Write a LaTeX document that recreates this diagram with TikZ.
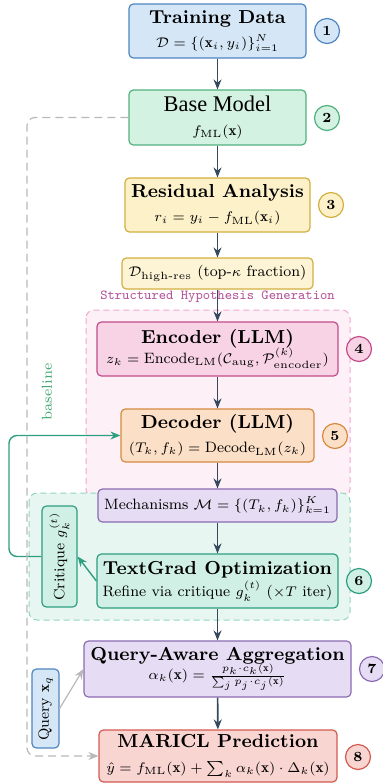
\documentclass[tikz,border=0pt]{standalone}
\usepackage{amsmath}
\usepackage{fontspec}
\newfontfamily\timesfont{Liberation Serif}
\usetikzlibrary{arrows.meta}

% palette
\definecolor{blueF}{HTML}{D5E7F6}\definecolor{blueD}{HTML}{4F86BF}
\definecolor{greenF}{HTML}{D4F2E2}\definecolor{greenD}{HTML}{52B07E}
\definecolor{yelF}{HTML}{FCF1C9}\definecolor{yelD}{HTML}{D2B040}
\definecolor{yelF2}{HTML}{FDF4D6}
\definecolor{pinkF}{HTML}{F8D3E6}\definecolor{pinkD}{HTML}{C24D8A}
\definecolor{orF}{HTML}{FBDFC6}\definecolor{orD}{HTML}{D58A3F}
\definecolor{purF}{HTML}{E6DCF3}\definecolor{purD}{HTML}{8B6BB3}
\definecolor{tealF}{HTML}{D0F0E6}\definecolor{tealD}{HTML}{2E9E80}
\definecolor{redF}{HTML}{F9D5D1}\definecolor{redD}{HTML}{D25A50}
\definecolor{arrowC}{HTML}{34495E}
\definecolor{regPinkF}{HTML}{FDF0F7}\definecolor{regPinkD}{HTML}{F1A9CA}
\definecolor{regGreenF}{HTML}{E7F6F1}\definecolor{regGreenD}{HTML}{92D4C1}
\definecolor{greyC}{HTML}{B8B8B8}
\definecolor{labMag}{HTML}{B5569B}
\definecolor{labGreen}{HTML}{3DA86C}

\newcommand\boxtitle{\fontsize{9.4}{11}\selectfont\bfseries}
\newcommand\boxsub{\fontsize{7.5}{9}\selectfont}

\begin{document}
\begin{tikzpicture}[x=0.5pt,y=-0.5pt,
  stage/.style={draw, rounded corners=2.2pt, line width=0.6pt, align=center, inner sep=0pt},
  numdot/.style={circle, draw, line width=0.6pt, minimum size=12.5pt, inner sep=0pt, font=\fontsize{7}{8}\selectfont\bfseries},
  flow/.style={draw=arrowC, line width=0.8pt, -{Stealth[length=5pt,width=4pt]}},
  region/.style={dashed, dash pattern=on 3pt off 2pt, line width=0.5pt, rounded corners=4pt}]
\useasboundingbox (0,0) rectangle (383,783);

% grouping regions
\draw[region, fill=regPinkF, draw=regPinkD] (86,310) rectangle (350,497);
\draw[region, fill=regGreenF, draw=regGreenD] (29,493) rectangle (350,620);

\node[text=labMag, font=\ttfamily\fontsize{6.9}{8}\selectfont] (shg) at (217.5,297) {Structured Hypothesis Generation};
\node[text=labGreen, rotate=90, font=\fontsize{7.2}{8}\selectfont] (bl) at (47,392) {baseline};

% stages
\node[stage, fill=blueF, draw=blueD, minimum width=88.5pt, minimum height=27pt] (train) at (217.5,31)
  {{\boxtitle Training Data}\\[0pt]{\boxsub $\mathcal{D}=\{(\mathbf{x}_i,y_i)\}_{i=1}^{N}$}};
\node[stage, fill=greenF, draw=greenD, minimum width=88.5pt, minimum height=27.5pt] (base) at (217.5,117.5)
  {{\timesfont\fontsize{11.2}{12}\selectfont Base Model}\\[0pt]{\boxsub $f_{\mathrm{ML}}(\mathbf{x})$}};
\node[stage, fill=yelF, draw=yelD, minimum width=92.5pt, minimum height=27pt] (resid) at (217.5,205)
  {{\boxtitle Residual Analysis}\\[0pt]{\boxsub $r_i=y_i-f_{\mathrm{ML}}(\mathbf{x}_i)$}};
\node[stage, fill=yelF2, draw=yelD, minimum width=95.5pt, minimum height=15.5pt] (dhigh) at (217.5,273.5)
  {\boxsub $\mathcal{D}_{\text{high-res}}$ (top-$\kappa$ fraction)};
\node[stage, fill=pinkF, draw=pinkD, minimum width=120.5pt, minimum height=27pt] (enc) at (217.5,349)
  {{\boxtitle Encoder (LLM)}\\[-2pt]{\boxsub $z_k=\mathrm{Encode}_{\mathrm{LM}}(\mathcal{C}_{\mathrm{aug}},\mathcal{P}^{(k)}_{\mathrm{encoder}})$}};
\node[stage, fill=orF, draw=orD, minimum width=96.5pt, minimum height=26.5pt] (dec) at (217.5,435.5)
  {{\boxtitle Decoder (LLM)}\\[0pt]{\boxsub $(T_k,f_k)=\mathrm{Decode}_{\mathrm{LM}}(z_k)$}};
\node[stage, fill=purF, draw=purD, minimum width=119.5pt, minimum height=16.5pt] (mech) at (217.5,505.5)
  {\boxsub Mechanisms $\mathcal{M}=\{(T_k,f_k)\}_{k=1}^{K}$};
\node[stage, fill=tealF, draw=tealD, minimum width=120.5pt, minimum height=27pt] (tg) at (217.5,581)
  {{\boxtitle TextGrad Optimization}\\[-1pt]{\boxsub Refine via critique $g_k^{(t)}$ ($\times T$ iter)}};
\node[stage, fill=purF, draw=purD, minimum width=133.5pt, minimum height=28pt] (qa) at (217.5,669)
  {{\boxtitle Query-Aware Aggregation}\\[-2.5pt]{\boxsub $\alpha_k(\mathbf{x})=\frac{p_k\cdot c_k(\mathbf{x})}{\sum_j p_j\cdot c_j(\mathbf{x})}$}};
\node[stage, fill=redF, draw=redD, minimum width=119pt, minimum height=26pt] (mar) at (218,756)
  {{\boxtitle MARICL Prediction}\\[0.5pt]{\boxsub $\hat{y}=f_{\mathrm{ML}}(\mathbf{x})+\sum_k\alpha_k(\mathbf{x})\cdot\Delta_k(\mathbf{x})$}};

% side boxes
\node[stage, fill=tealF, draw=tealD, rotate=90, minimum width=50.5pt, minimum height=17.5pt] (crit) at (59.5,556.5)
  {\boxsub Critique $g_k^{(t)}$};
\node[stage, fill=blueF, draw=blueD, rotate=90, minimum width=39.5pt, minimum height=13.5pt] (query) at (45.5,708.5)
  {\boxsub Query $\mathbf{x}_q$};

% step numbers
\node[numdot, fill=blueF, draw=blueD] (n1) at (327,31) {1};
\node[numdot, fill=greenF, draw=greenD] (n2) at (327,118) {2};
\node[numdot, fill=yelF, draw=yelD] (n3) at (331,205) {3};
\node[numdot, fill=pinkF, draw=pinkD] (n4) at (359,349) {4};
\node[numdot, fill=orF, draw=orD] (n5) at (335,436) {5};
\node[numdot, fill=tealF, draw=tealD] (n6) at (359,581) {6};
\node[numdot, fill=purF, draw=purD] (n7) at (372,669) {7};
\node[numdot, fill=redF, draw=redD] (n8) at (358,757) {8};

% main flow
\draw[flow] (train) -- (base);
\draw[flow] (base) -- (resid);
\draw[flow] (resid) -- (dhigh);
\draw[flow] (dhigh) -- (enc);
\draw[flow] (enc) -- (dec);
\draw[flow] (dec) -- (mech);
\draw[flow] (mech) -- (tg);
\draw[flow] (tg) -- (qa);
\draw[flow] (qa) -- (mar);

% refinement loop
\draw[draw=tealD, line width=0.7pt, -{Stealth[length=5pt,width=4pt]}] (tg.west) -- (crit.south);
\coordinate (loopB) at (9,556.5);
\coordinate (loopT) at (9,435.5);
\draw[draw=tealD, line width=0.7pt, rounded corners=4pt, -{Stealth[length=5pt,width=4pt]}]
  (crit.north) -- (loopB) -- (loopT) -- (dec.west);

% query input
\draw[draw=greyC, line width=0.6pt, -{Stealth[length=5pt,width=4pt]}] (query.south) -- (qa.west);

% baseline shortcut
\coordinate (blT) at (27,117.5);
\coordinate (blB) at (27,756);
\draw[draw=greyC, line width=0.6pt, dash pattern=on 4pt off 2.5pt, rounded corners=4pt, -{Stealth[length=5pt,width=4pt]}]
  (base.west) -- (blT) -- (blB) -- (mar.west);
\end{tikzpicture}
\end{document}
